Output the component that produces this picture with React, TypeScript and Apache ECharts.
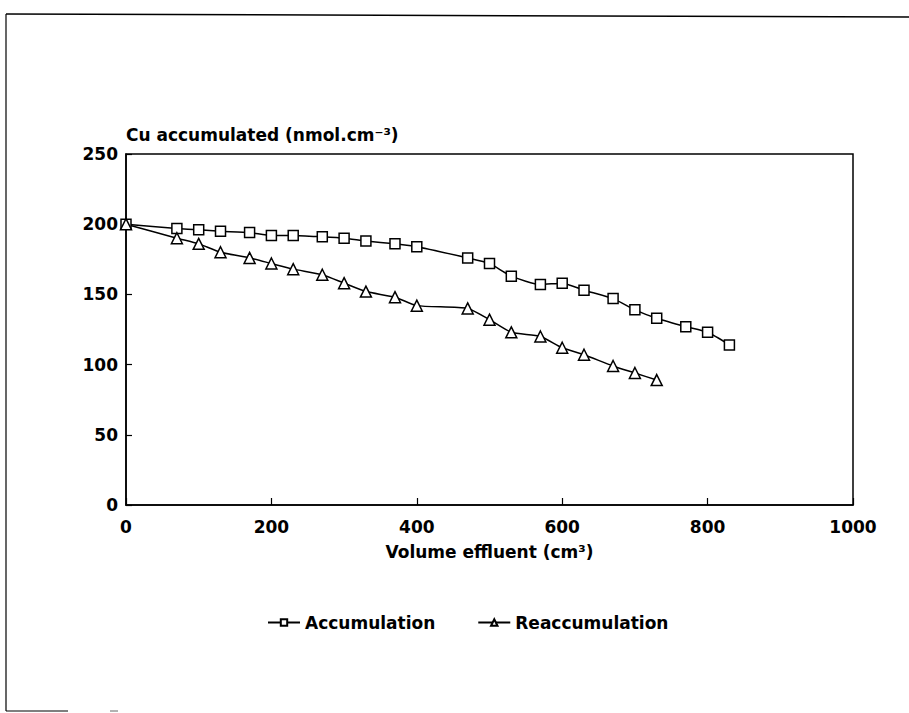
import React, { useEffect, useRef } from "react";
import * as echarts from "echarts";

const accX = [0, 70, 100, 130, 170, 200, 230, 270, 300, 330, 370, 400, 470, 500, 530, 570, 600, 630, 670, 700, 730, 770, 800, 830];
const accY = [200, 197, 196, 195, 194, 192, 192, 191, 190, 188, 186, 184, 176, 172, 163, 157, 158, 153, 147, 139, 133, 127, 123, 114];
const reX = [0, 70, 100, 130, 170, 200, 230, 270, 300, 330, 370, 400, 470, 500, 530, 570, 600, 630, 670, 700, 730];
const reY = [200, 190, 186, 180, 176, 172, 168, 164, 158, 152, 148, 142, 140, 132, 123, 120, 112, 107, 99, 94, 89];
const seriesNames = ["Accumulation", "Reaccumulation"];
const xTicks = [0, 200, 400, 600, 800, 1000];
const yTicks = [0, 50, 100, 150, 200, 250];

const FONT = "DejaVu Sans";

export default function App() {
  const ref = useRef<HTMLDivElement>(null);
  useEffect(() => {
    if (!ref.current) return;
    const chart = echarts.init(ref.current, null, { renderer: "svg" });
    const txt = { color: "#000", fontFamily: FONT, fontWeight: "bold" as const, fontSize: 17 };
    chart.setOption({
      animation: false,
      backgroundColor: "#fff",
      grid: {
        left: 126, right: 56, top: 154, bottom: 208,
        show: true, borderColor: "#000", borderWidth: 1.5, backgroundColor: "transparent",
      },
      xAxis: {
        type: "value",
        min: xTicks[0], max: xTicks[xTicks.length - 1], interval: 200,
        name: "Volume effluent (cm³)",
        nameLocation: "middle", nameGap: 38,
        nameTextStyle: txt,
        axisLine: { show: true, lineStyle: { color: "#000", width: 1.5 } },
        axisTick: { show: true, inside: true, length: 7, lineStyle: { color: "#000", width: 1.2 } },
        axisLabel: { ...txt, margin: 13, formatter: (v: number) => String(v) },
        splitLine: { show: false },
      },
      yAxis: {
        type: "value",
        min: yTicks[0], max: yTicks[yTicks.length - 1], interval: 50,
        name: "Cu accumulated (nmol.cm⁻³)",
        nameLocation: "end", nameGap: 11,
        nameTextStyle: { ...txt, align: "left" },
        axisLine: { show: true, lineStyle: { color: "#000", width: 1.5 } },
        axisTick: { show: true, inside: true, length: 6, lineStyle: { color: "#000", width: 1.2 } },
        axisLabel: { ...txt, margin: 8 },
        splitLine: { show: false },
      },
      legend: {
        left: 262, top: 609,
        itemWidth: 32, itemHeight: 8, itemGap: 42,
        textStyle: { ...txt },
        data: seriesNames,
      },
      graphic: [
        { type: "line", shape: { x1: 6, y1: 14, x2: 909, y2: 17 }, style: { stroke: "#000", lineWidth: 1.5 } },
        { type: "line", shape: { x1: 6, y1: 14, x2: 6, y2: 711 }, style: { stroke: "#000", lineWidth: 1.2 } },
        { type: "line", shape: { x1: 6, y1: 711, x2: 68, y2: 711 }, style: { stroke: "#000", lineWidth: 1.2 } },
        { type: "line", shape: { x1: 110, y1: 711, x2: 118, y2: 711 }, style: { stroke: "#666", lineWidth: 1 } },
      ],
      series: [
        {
          name: seriesNames[0], type: "line",
          data: accX.map((x, i) => [x, accY[i]]),
          symbol: "rect", symbolSize: 10, smooth: 0.2,
          lineStyle: { color: "#000", width: 1.5 },
          itemStyle: { color: "#fff", borderColor: "#000", borderWidth: 1.5 },
        },
        {
          name: seriesNames[1], type: "line",
          data: reX.map((x, i) => [x, reY[i]]),
          symbol: "triangle", symbolSize: 11, smooth: 0.2,
          lineStyle: { color: "#000", width: 1.5 },
          itemStyle: { color: "#fff", borderColor: "#000", borderWidth: 1.5 },
        },
      ],
    });
    return () => chart.dispose();
  }, []);
  return <div ref={ref} style={{ position: "fixed", left: 0, top: 0, width: 909, height: 713, background: "#fff" }} />;
}
